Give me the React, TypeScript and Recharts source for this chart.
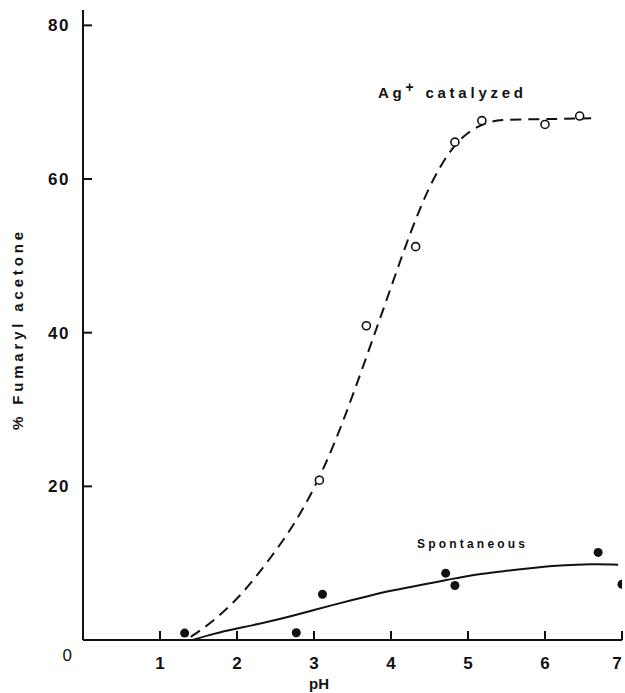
import React from "react";
import {
  ComposedChart,
  Line,
  Scatter,
  XAxis,
  YAxis,
  Customized,
} from "recharts";

// ---------------------------------------------------------------------------
// Data
// ---------------------------------------------------------------------------

// Ag+ catalyzed, measured points (open circles)
const agPh = [3.07, 3.68, 4.32, 4.83, 5.18, 6.0, 6.45];
const agPct = [20.8, 40.9, 51.2, 64.8, 67.6, 67.1, 68.2];

// Ag+ catalyzed, fitted curve (dashed)
const agCurvePh = [1.4, 1.7, 2.0, 2.25, 2.5, 2.75, 3.0, 3.25, 3.5, 3.75, 4.0, 4.25, 4.5, 4.75, 5.0, 5.25, 5.5, 6.0, 6.6];
const agCurvePct = [0.4, 2.6, 5.4, 8.3, 11.6, 15.3, 19.8, 25.3, 31.8, 38.8, 45.9, 52.9, 58.9, 63.3, 66.0, 67.3, 67.7, 67.8, 67.9];

// Spontaneous, measured points (filled dots)
const spPh = [1.32, 2.77, 3.11, 4.71, 4.83, 6.69, 7.0];
const spPct = [0.9, 0.95, 5.95, 8.7, 7.1, 11.4, 7.25];

// Spontaneous, fitted curve (solid)
const spCurvePh = [1.42, 1.7, 2.0, 2.5, 3.0, 3.34, 3.7, 4.0, 4.4, 4.72, 5.1, 5.5, 5.9, 6.2, 6.6, 6.95];
const spCurvePct = [0, 0.8, 1.5, 2.6, 3.9, 4.8, 5.7, 6.4, 7.2, 7.8, 8.5, 9.0, 9.45, 9.7, 9.85, 9.8];

const xTicks = [1, 2, 3, 4, 5, 6, 7];
const yTicks = [0, 20, 40, 60, 80];

const pairs = (xs: number[], ys: number[]) => xs.map((x, i) => ({ x, y: ys[i] }));

const agPoints = pairs(agPh, agPct);
const agCurve = pairs(agCurvePh, agCurvePct);
const spPoints = pairs(spPh, spPct);
const spCurve = pairs(spCurvePh, spCurvePct);

const FONT = "'Liberation Sans', Arial, sans-serif";
const INK = "#111";

// ---------------------------------------------------------------------------
// Ticks: marks point inward, labels outside
// ---------------------------------------------------------------------------

const YTick = (props: any) => {
  const { x, y, payload } = props;
  if (payload.value === 0) {
    return (
      <text x={x - 11} y={y + 15} textAnchor="end" dy="0.35em" fontSize={17} fontFamily={FONT} fill={INK}>
        0
      </text>
    );
  }
  return (
    <g>
      <line x1={x} y1={y} x2={x + 9} y2={y} stroke={INK} strokeWidth={2} />
      <text x={x - 13} y={y} textAnchor="end" dy="0.35em" fontSize={17} fontWeight="bold" fontFamily={FONT} fill={INK} letterSpacing={1.5}>
        {payload.value}
      </text>
    </g>
  );
};

const XTick = (props: any) => {
  const { x, y, payload } = props;
  return (
    <g>
      <line x1={x} y1={y} x2={x} y2={y - 9} stroke={INK} strokeWidth={2} />
      <text x={Math.min(x, 617)} y={y + 23} textAnchor="middle" dy="0.35em" fontSize={17} fontWeight="bold" fontFamily={FONT} fill={INK}>
        {payload.value}
      </text>
    </g>
  );
};

const OpenCircle = (props: any) => (
  <circle cx={props.cx} cy={props.cy} r={4} fill="#fff" stroke={INK} strokeWidth={1.6} />
);

const FilledDot = (props: any) => <circle cx={props.cx} cy={props.cy} r={4.5} fill={INK} />;

const Labels = () => (
  <g fontFamily={FONT} fill={INK} fontWeight="bold">
    <text x={18} y={331} transform="rotate(-90 18 331)" textAnchor="middle" dy="0.35em" fontSize={15} textLength={198} lengthAdjust="spacing">
      % Fumaryl acetone
    </text>
    <text x={319} y={684} textAnchor="middle" dy="0.35em" fontSize={15}>
      pH
    </text>
    <text x={378} y={93} dy="0.35em" fontSize={15} textLength={145} lengthAdjust="spacing">
      Ag
      <tspan dy={-6} fontSize={14}>+</tspan>
      <tspan dy={6}> catalyzed</tspan>
    </text>
    <text x={417} y={544} dy="0.35em" fontSize={12} textLength={108} lengthAdjust="spacing">
      Spontaneous
    </text>
  </g>
);

export default function App() {
  return (
    <div style={{ position: "absolute", left: 0, top: 0, background: "#fff" }}>
      <ComposedChart width={625} height={693} margin={{ top: 10, right: 3, bottom: 0, left: 0 }}>
        <XAxis
          type="number"
          dataKey="x"
          domain={[0, 7]}
          ticks={xTicks}
          height={53}
          tickSize={0}
          tickMargin={0}
          tickLine={false}
          axisLine={{ stroke: INK, strokeWidth: 2 }}
          tick={<XTick />}
          interval={0}
          allowDataOverflow
        />
        <YAxis
          type="number"
          dataKey="y"
          domain={[0, 82]}
          ticks={yTicks}
          width={83}
          tickSize={0}
          tickMargin={0}
          tickLine={false}
          axisLine={{ stroke: INK, strokeWidth: 2 }}
          tick={<YTick />}
          interval={0}
          allowDataOverflow
        />
        <Line
          data={agCurve}
          dataKey="y"
          type="natural"
          stroke={INK}
          strokeWidth={2}
          strokeDasharray="11 7"
          dot={false}
          activeDot={false}
          isAnimationActive={false}
        />
        <Line
          data={spCurve}
          dataKey="y"
          type="natural"
          stroke={INK}
          strokeWidth={2}
          dot={false}
          activeDot={false}
          isAnimationActive={false}
        />
        <Scatter data={agPoints} shape={<OpenCircle />} isAnimationActive={false} />
        <Scatter data={spPoints} shape={<FilledDot />} isAnimationActive={false} />
        <Customized component={Labels} />
      </ComposedChart>
    </div>
  );
}
